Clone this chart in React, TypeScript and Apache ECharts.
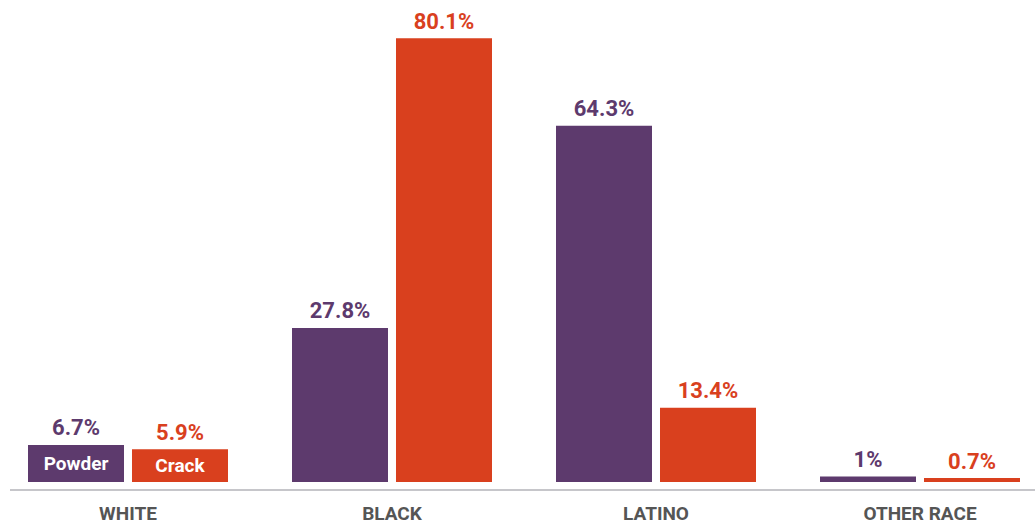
import React, { useEffect, useRef } from "react";
import * as echarts from "echarts";

const categories = ["WHITE", "BLACK", "LATINO", "OTHER RACE"];
const powderValues = [6.7, 27.8, 64.3, 1];
const crackValues = [5.9, 80.1, 13.4, 0.7];
const seriesNames = ["Powder", "Crack"];

const PURPLE = "#5d3a6d";
const ORANGE = "#d9401e";
const FONT = "Roboto, 'DejaVu Sans Condensed', sans-serif";

export default function App() {
  const ref = useRef<HTMLDivElement>(null);
  useEffect(() => {
    if (!ref.current) return;
    const chart = echarts.init(ref.current, undefined, { renderer: "svg" });
    const mkSeries = (name: string, values: number[], color: string) => ({
      name,
      type: "bar",
      data: values,
      barWidth: 96,
      barGap: "8.33%",
      itemStyle: { color },
      label: {
        show: true,
        position: "top",
        distance: 6,
        formatter: (p: any) => `${p.value}%`,
        color,
        fontFamily: FONT,
        fontWeight: "bold",
        fontSize: 22,
      },
      markPoint: {
        symbol: "rect",
        symbolSize: 0,
        data: [
          {
            coord: [categories[0], values[0] / 2],
            label: {
              show: true,
              position: "inside",
              formatter: name,
              color: "#ffffff",
              fontFamily: FONT,
              fontWeight: "bold",
              fontSize: 19,
            },
          },
        ],
      },
    });
    chart.setOption({
      animation: false,
      grid: { left: 0, right: 0, top: 0, bottom: 45, containLabel: false },
      xAxis: {
        type: "category",
        data: categories,
        axisLine: { show: false },
        axisTick: { show: false },
        axisLabel: {
          margin: 22,
          color: "#555555",
          fontFamily: FONT,
          fontWeight: "bold",
          fontSize: 19,
        },
      },
      yAxis: {
        type: "value",
        min: 0,
        max: 87,
        show: false,
        splitLine: { show: false },
      },
      series: [
        mkSeries(seriesNames[0], powderValues, PURPLE),
        mkSeries(seriesNames[1], crackValues, ORANGE),
      ],
      graphic: [
        {
          type: "line",
          shape: { x1: 14, y1: 490, x2: 1039, y2: 490 },
          style: { stroke: "#c6c6ca", lineWidth: 2 },
        },
      ],
    });
    return () => chart.dispose();
  }, []);
  return (
    <div
      style={{
        position: "absolute",
        left: 0,
        top: 0,
        width: 1035,
        height: 527,
        overflow: "hidden",
      }}
    >
      <div
        ref={ref}
        style={{ position: "absolute", left: -4, top: 0, width: 1056, height: 527 }}
      />
    </div>
  );
}
